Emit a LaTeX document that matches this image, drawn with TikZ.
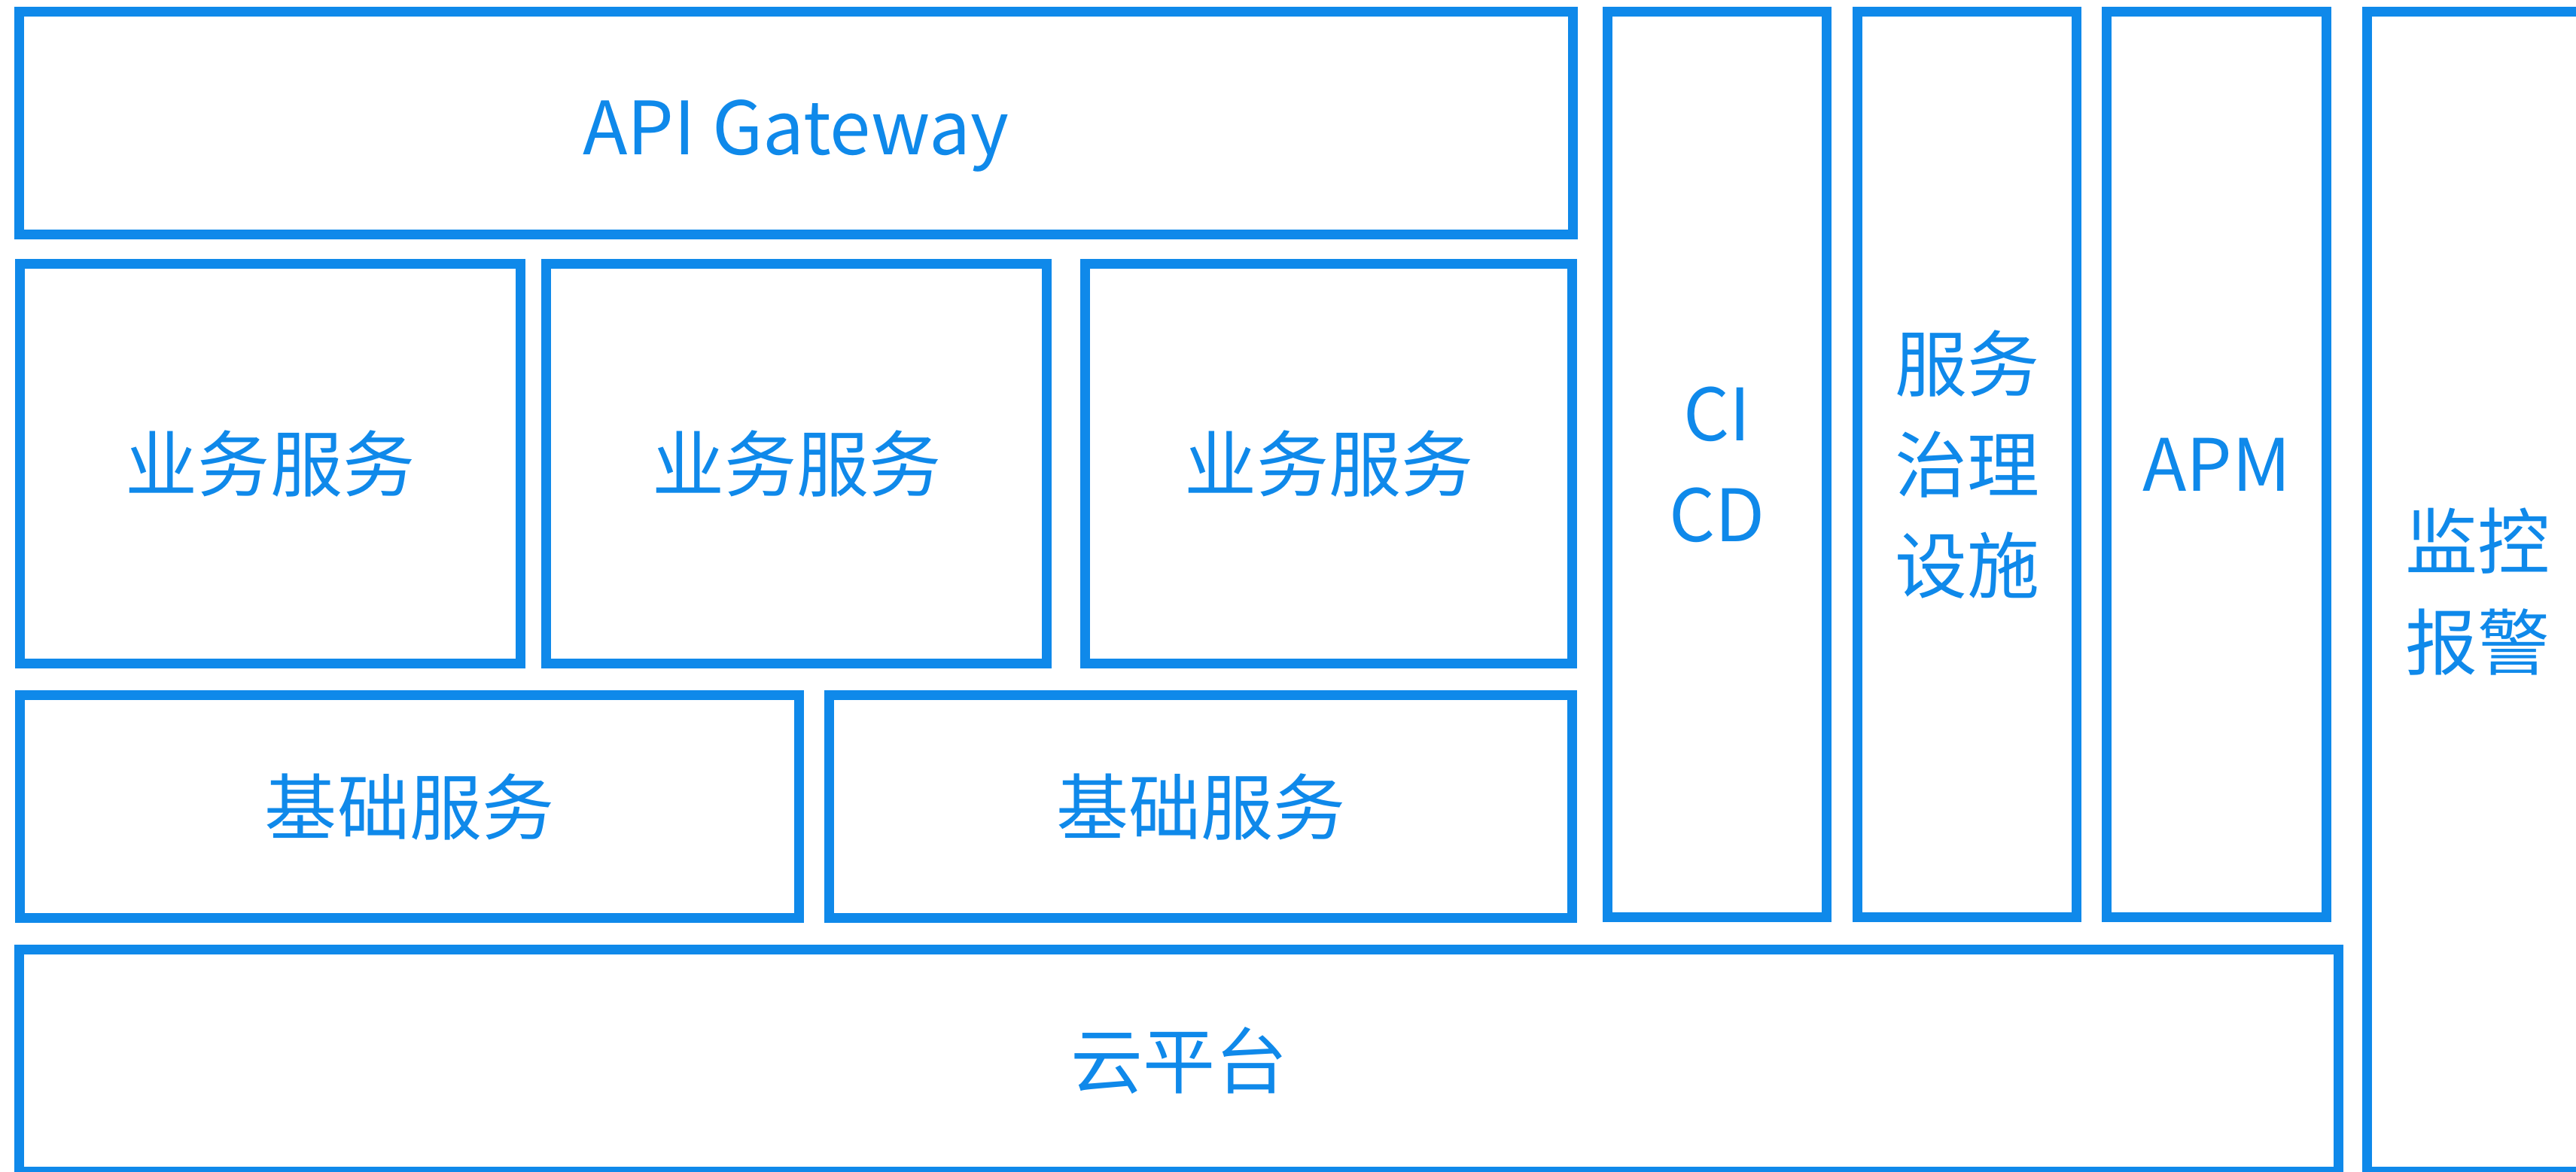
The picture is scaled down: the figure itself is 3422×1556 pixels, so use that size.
\documentclass[tikz,border=0pt]{standalone}
\usepackage{fontspec}
\newfontfamily\cjk{Noto Sans CJK SC}
\definecolor{blu}{HTML}{0F89EA}
\begin{document}
\begin{tikzpicture}[x=0.01cm,y=-0.01cm,
  box/.style={draw=blu,line width=0.13cm,rectangle,inner sep=0pt,outer sep=0pt,
    text=blu,font=\cjk\fontsize{27.3}{38.1}\selectfont,align=center},
  big/.style={font=\cjk\fontsize{27.8}{38.1}\selectfont,text height=24.1pt,text depth=0pt}]
\useasboundingbox (0,0) rectangle (3422,1556);
\node[box,minimum width=20.62cm,minimum height=2.96cm,big] (api) at (1057.5,163.5) {API Gateway};
\node[box,minimum width=6.65cm,minimum height=5.31cm] (b1) at (359,616) {业务服务};
\node[box,minimum width=6.65cm,minimum height=5.31cm] (b2) at (1058,616) {业务服务};
\node[box,minimum width=6.47cm,minimum height=5.31cm] (b3) at (1765,616) {业务服务};
\node[box,minimum width=10.35cm,minimum height=2.96cm] (f1) at (544,1071.5) {基础服务};
\node[box,minimum width=9.87cm,minimum height=2.96cm] (f2) at (1595,1071.5) {基础服务};
\node[box,minimum width=2.91cm,minimum height=12.03cm] (ci) at (2281,617) {CI\\CD};
\node[box,minimum width=2.91cm,minimum height=12.03cm] (sg) at (2613,617) {服务\\治理\\设施};
\node[box,minimum width=2.92cm,minimum height=12.03cm] (apm) at (2944.5,617) {APM};
\node[box,minimum width=2.93cm,minimum height=15.41cm] (mon) at (3291,786) {监控\\报警};
\node[box,minimum width=30.79cm,minimum height=2.95cm] (cloud) at (1566,1409) {云平台};
\end{tikzpicture}
\end{document}
